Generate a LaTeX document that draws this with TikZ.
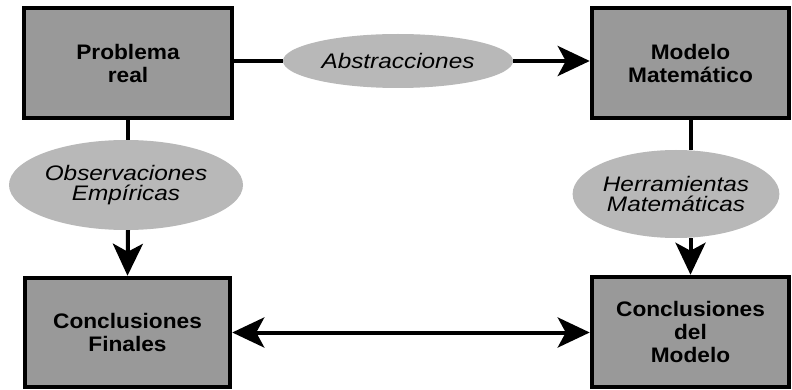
\documentclass[tikz,border=0pt]{standalone}
\usepackage{fontspec}
\setmainfont{Liberation Sans}
\newfontfamily\boxfont[FakeStretch=1.08]{Liberation Sans}
\newfontfamily\ovalfont[FakeStretch=1.16]{Liberation Sans}
\usetikzlibrary{arrows.meta,shapes.geometric}
\definecolor{boxgray}{gray}{0.60}
\definecolor{ovalgray}{gray}{0.72}
\begin{document}
\begin{tikzpicture}[x=1pt,y=-1pt,
  stagebox/.style={draw=black,line width=4.5pt,fill=boxgray,rectangle,
    minimum width=#1,inner sep=0pt,align=center,
    font=\boxfont\bfseries\fontsize{21}{23}\selectfont},
  oval/.style={ellipse,fill=ovalgray,draw=none,inner sep=0pt,align=center,
    font=\ovalfont\itshape\fontsize{21}{19.5}\selectfont},
  link/.style={line width=4pt,draw=black},
  tip/.style={-{Stealth[length=32pt,width=30pt,inset=8pt]}},
  tips/.style={{Stealth[length=32pt,width=30pt,inset=8pt]}-{Stealth[length=32pt,width=30pt,inset=8pt]}}]
\useasboundingbox (0,0) rectangle (792,390);
\fill[white] (0,0) rectangle (792,390);

% the four stages
\node[stagebox=208pt,minimum height=110pt] (real) at (128,63) {Problema\\real};
\node[stagebox=197pt,minimum height=110pt] (mat) at (690.5,63) {Modelo\\Matemático};
\node[stagebox=205pt,minimum height=109pt] (fin) at (127.5,332.5) {Conclusiones\\Finales};
\node[stagebox=197pt,minimum height=110pt] (cm) at (690.5,332) {Conclusiones\\del\\Modelo};

% the processes between stages
\node[oval,minimum width=230pt,minimum height=54pt] (abs) at (398,61) {Abstracciones};
\node[oval,minimum width=234pt,minimum height=90pt] (obs) at (126,185) {Observaciones\\Empíricas};
\node[oval,minimum width=205pt,minimum height=88pt] (her) at (676,194) {Herramientas\\Matemáticas};

% connectors
\draw[link] (real.east |- abs.west) -- (abs.west);
\draw[link,tip] (abs.east) -- (mat.west |- abs.east);
\draw[link] (real.south) -- (real.south |- obs.north);
\draw[link,tip] (real.south |- obs.south) -- (fin.north);
\draw[link] (mat.south) -- (mat.south |- her.north);
\draw[link,tip] (mat.south |- her.south) -- (cm.north);
\draw[link,tips] (fin.east) -- (cm.west |- fin.east);
\end{tikzpicture}
\end{document}
